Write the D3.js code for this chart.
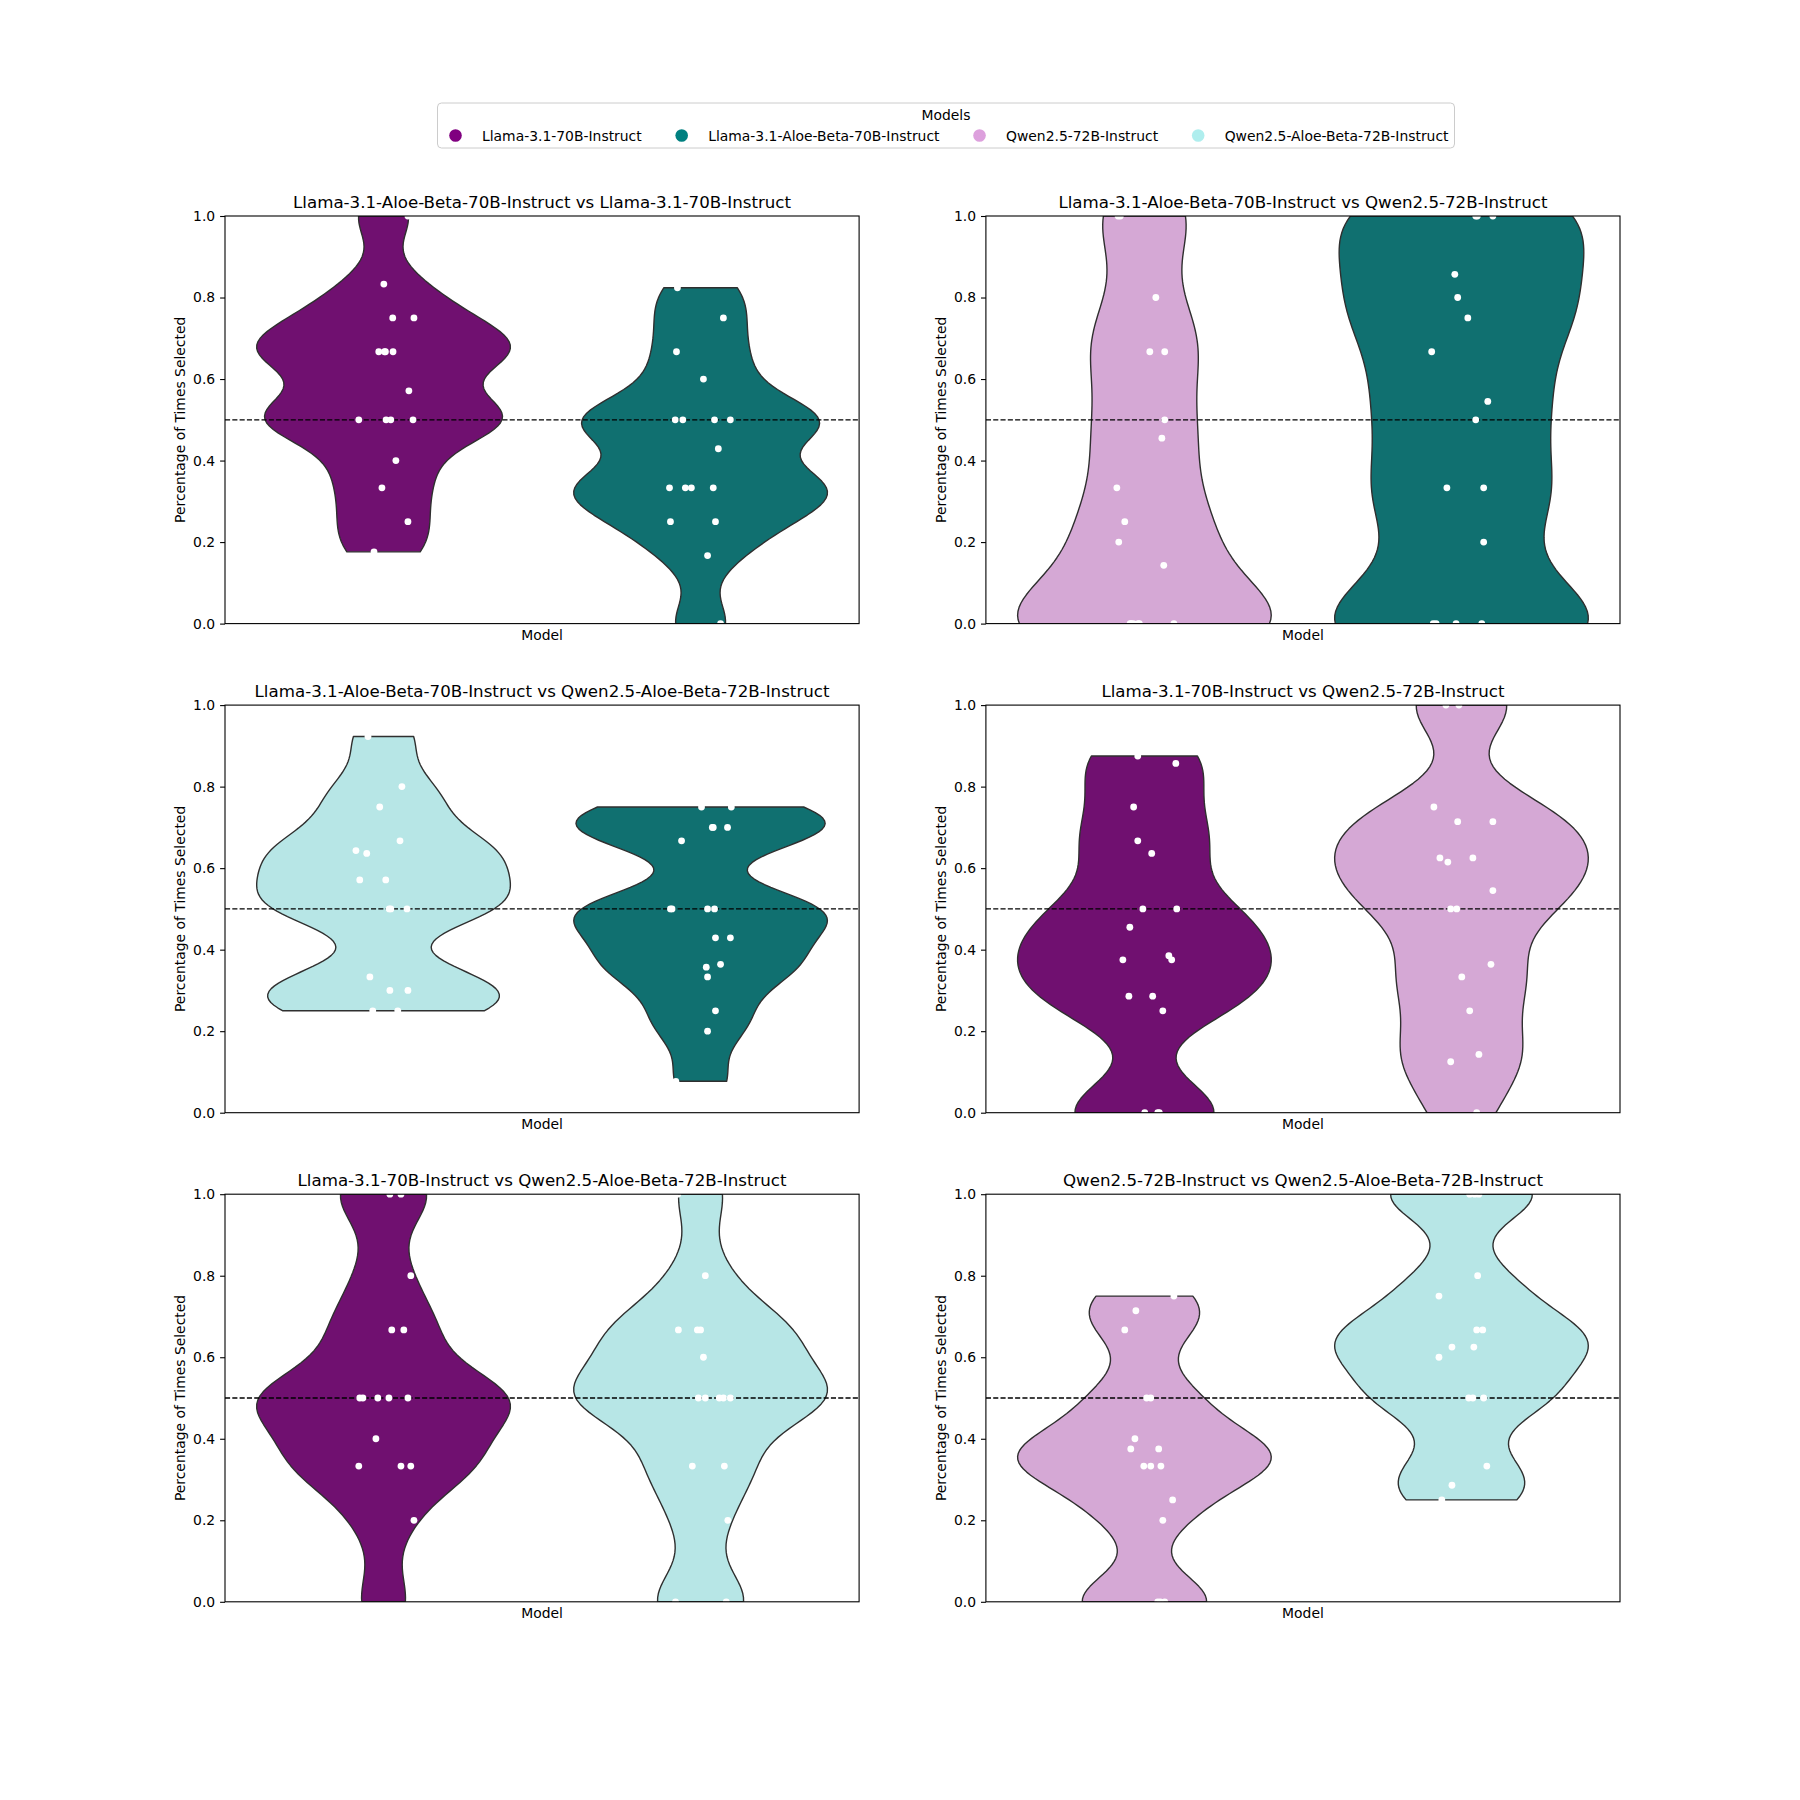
<!DOCTYPE html>
<html>
<head>
<meta charset="utf-8">
<script src="https://cdn.jsdelivr.net/npm/d3@7"></script>
<style>
body { margin: 0; background: #fff; }
text { font-family: "DejaVu Sans", sans-serif; fill: #000; }
</style>
</head>
<body>
<svg id="chart"></svg>
<script>
// models + legend colours
let models = ['Llama-3.1-70B-Instruct', 'Llama-3.1-Aloe-Beta-70B-Instruct', 'Qwen2.5-72B-Instruct', 'Qwen2.5-Aloe-Beta-72B-Instruct']
let modelColors = ['#800080', '#008080', '#dda0dd', '#afeeee']

let panelTitles = [
    'Llama-3.1-Aloe-Beta-70B-Instruct vs Llama-3.1-70B-Instruct',
    'Llama-3.1-Aloe-Beta-70B-Instruct vs Qwen2.5-72B-Instruct',
    'Llama-3.1-Aloe-Beta-70B-Instruct vs Qwen2.5-Aloe-Beta-72B-Instruct',
    'Llama-3.1-70B-Instruct vs Qwen2.5-72B-Instruct',
    'Llama-3.1-70B-Instruct vs Qwen2.5-Aloe-Beta-72B-Instruct',
    'Qwen2.5-72B-Instruct vs Qwen2.5-Aloe-Beta-72B-Instruct'
]
// [left model, right model] index into models
let panelPairs = [[0, 1], [2, 1], [3, 1], [0, 2], [0, 3], [2, 3]]

let yTicks = [0, 0.2, 0.4, 0.6, 0.8, 1.0]

// each point: [percentage selected, strip jitter]
let p1Left = [[1, 0.077], [0.833, 0.001], [0.75, 0.029], [0.75, 0.096], [0.667, -0.015], [0.667, 0.006], [0.667, 0.003], [0.667, 0.030],
    [0.571, 0.080], [0.5, -0.078], [0.5, 0.008], [0.5, 0.023], [0.5, 0.093], [0.4, 0.039], [0.333, -0.005], [0.25, 0.077], [0.176, -0.030]]
let p1Right = [[0.824, -0.073], [0.75, 0.072], [0.667, -0.076], [0.6, 0.009], [0.5, -0.080], [0.5, -0.056], [0.5, 0.044], [0.5, 0.094],
    [0.429, 0.056], [0.333, -0.098], [0.333, -0.048], [0.333, -0.029], [0.333, 0.040], [0.25, -0.095], [0.25, 0.047], [0.167, 0.022], [0, 0.063]]

let p2Left = [[1, -0.083], [1, -0.076], [0.8, 0.036], [0.667, 0.017], [0.667, 0.064], [0.5, 0.064], [0.455, 0.055], [0.333, -0.087], [0.25, -0.062],
    [0.2, -0.081], [0.143, 0.061], [0, -0.045], [0, -0.042], [0, -0.035], [0, -0.020], [0, -0.016], [0, 0.093]]
let p2Right = [[1, 0.045], [1, 0.050], [1, 0.099], [0.857, -0.021], [0.8, -0.012], [0.75, 0.020], [0.667, -0.094], [0.545, 0.083], [0.5, 0.045],
    [0.333, -0.046], [0.333, 0.070], [0.2, 0.070], [0, -0.089], [0, -0.080], [0, -0.017], [0, 0.064]]

let p3Left = [[0.923, -0.049], [0.8, 0.058], [0.75, -0.012], [0.667, 0.052], [0.643, -0.087], [0.636, -0.053], [0.571, -0.075], [0.571, 0.007],
    [0.5, 0.018], [0.5, 0.023], [0.5, 0.074], [0.333, -0.043], [0.3, 0.020], [0.3, 0.077], [0.25, -0.034], [0.25, 0.045]]
let p3Right = [[0.75, 0.003], [0.75, 0.097], [0.7, 0.037], [0.7, 0.085], [0.7, 0.040], [0.667, -0.060], [0.5, -0.095], [0.5, -0.090], [0.5, 0.022], [0.5, 0.044],
    [0.429, 0.047], [0.429, 0.094], [0.364, 0.063], [0.357, 0.018], [0.333, 0.022], [0.25, 0.047], [0.2, 0.022], [0.077, -0.078]]

let p4Left = [[0.875, -0.021], [0.857, 0.099], [0.75, -0.034], [0.667, -0.021], [0.636, 0.023], [0.5, -0.005], [0.5, 0.102], [0.455, -0.046],
    [0.385, 0.077], [0.375, -0.068], [0.375, 0.086], [0.286, -0.049], [0.286, 0.026], [0.25, 0.058], [0, 0.001], [0, 0.042], [0, 0.047]]
let p4Right = [[1, -0.049], [1, -0.008], [0.75, -0.087], [0.714, -0.012], [0.714, 0.099], [0.625, -0.068], [0.615, -0.043], [0.625, 0.036],
    [0.545, 0.099], [0.5, -0.034], [0.5, -0.015], [0.364, 0.093], [0.333, 0.001], [0.25, 0.026], [0.143, 0.055], [0.125, -0.034], [0, 0.048]]

let p5Left = [[1, 0.020], [1, 0.055], [0.8, 0.086], [0.667, 0.026], [0.667, 0.064], [0.5, -0.075], [0.5, -0.065], [0.5, -0.018], [0.5, 0.017],
    [0.5, 0.077], [0.4, -0.024], [0.333, -0.078], [0.333, 0.055], [0.333, 0.086], [0.2, 0.096], [0, -0.081]]
let p5Right = [[1, -0.072], [0.8, 0.015], [0.667, -0.070], [0.667, -0.010], [0.667, 0.000], [0.6, 0.009], [0.5, -0.007], [0.5, 0.015], [0.5, 0.059],
    [0.5, 0.072], [0.5, 0.094], [0.333, -0.026], [0.333, 0.075], [0.2, 0.086], [0, -0.079], [0, 0.081]]

let p6Left = [[0.75, 0.093], [0.714, -0.027], [0.667, -0.062], [0.5, 0.007], [0.5, 0.020], [0.4, -0.030], [0.375, -0.043], [0.375, 0.045],
    [0.333, -0.002], [0.333, 0.020], [0.333, 0.052], [0.25, 0.089], [0.2, 0.058], [0, 0.042], [0, 0.050], [0, 0.064]]
let p6Right = [[1, 0.026], [1, 0.042], [1, 0.055], [0.8, 0.051], [0.75, -0.071], [0.667, 0.048], [0.667, 0.067], [0.625, -0.030], [0.625, 0.039],
    [0.6, -0.071], [0.5, 0.023], [0.5, 0.036], [0.5, 0.070], [0.333, 0.080], [0.286, -0.030], [0.25, -0.062]]

let panelPoints = [[p1Left, p1Right], [p2Left, p2Right], [p3Left, p3Right], [p4Left, p4Right], [p5Left, p5Right], [p6Left, p6Right]]

let width = 1800
let height = 1800
let axLeft = 225
let axTop = 216
let axW = 634.1
let axH = 407.6
let gapX = 126.8
let gapY = 81.5
let bwAdjust = 0.5
let fontSm = '13.9px'

let svg = d3.select('#chart').attr('width', width).attr('height', height)

// seaborn-like desaturation (saturation 0.75)
let desat = (c) => {
    let h = d3.hsl(c)
    h.s = h.s * 0.75
    return h.formatHex()
}

// gaussian kde, scott bandwidth, cut at data range
let kde = (vals) => {
    let n = vals.length
    let sd = d3.deviation(vals)
    let bw = sd * Math.pow(n, -0.2) * bwAdjust
    let lo = d3.min(vals), hi = d3.max(vals)
    let grid = d3.range(100).map(i => lo + (hi - lo) * i / 99)
    return grid.map(g => ({
        v: g,
        d: d3.sum(vals, x => Math.exp(-0.5 * ((g - x) / bw) ** 2))
    }))
}

let drawPanel = (idx) => {
    let col = idx % 2
    let row = Math.floor(idx / 2)
    let ox = axLeft + col * (axW + gapX)
    let oy = axTop + row * (axH + gapY)

    let g = svg.append('g').attr('transform', 'translate(' + ox + ',' + oy + ')')

    g.append('clipPath').attr('id', 'clip' + idx)
        .append('rect').attr('width', axW).attr('height', axH)

    let xScale = d3.scaleLinear().domain([-0.5, 1.5]).range([0, axW])
    let yScale = d3.scaleLinear().domain([0, 1]).range([axH, 0])

    let plot = g.append('g').attr('clip-path', 'url(#clip' + idx + ')')

    panelPairs[idx].forEach((m, k) => {
        let vals = panelPoints[idx][k].map(d => d[0])
        let dens = kde(vals)
        let maxD = d3.max(dens, d => d.d)
        let area = d3.area()
            .y(d => yScale(d.v))
            .x0(d => xScale(k - 0.4 * d.d / maxD))
            .x1(d => xScale(k + 0.4 * d.d / maxD))
        plot.append('path')
            .datum(dens)
            .attr('d', area)
            .attr('fill', desat(modelColors[m]))
            .attr('stroke', '#2f2f2f')
            .attr('stroke-width', 1.4)
            .attr('stroke-linejoin', 'round')
    })

    // 50% reference line
    plot.append('line')
        .attr('x1', 0).attr('x2', axW)
        .attr('y1', yScale(0.5)).attr('y2', yScale(0.5))
        .attr('stroke', '#000')
        .attr('stroke-width', 1.3)
        .attr('stroke-dasharray', '5.1,2.2')

    panelPoints[idx].forEach((pts, k) => {
        plot.selectAll('circle.s' + k)
            .data(pts)
            .enter()
            .append('circle')
            .attr('class', 's' + k)
            .attr('cx', d => xScale(k + d[1]))
            .attr('cy', d => yScale(d[0]))
            .attr('r', 3.4)
            .attr('fill', '#fff')
    })

    let yAxis = d3.axisLeft(yScale)
        .tickValues(yTicks)
        .tickFormat(d3.format('.1f'))
        .tickSize(4.9)
        .tickPadding(4.9)
    let ya = g.append('g').call(yAxis)
    ya.select('.domain').remove()
    ya.selectAll('text').style('font-size', fontSm).style('font-family', '"DejaVu Sans", sans-serif')
    ya.selectAll('line').attr('stroke-width', 1.1)

    g.append('rect')
        .attr('width', axW).attr('height', axH)
        .attr('fill', 'none').attr('stroke', '#000').attr('stroke-width', 1.1)

    g.append('text')
        .attr('x', axW / 2).attr('y', -8.3)
        .attr('text-anchor', 'middle')
        .style('font-size', '16.67px')
        .text(panelTitles[idx])

    g.append('text')
        .attr('x', axW / 2).attr('y', axH + 16.5)
        .attr('text-anchor', 'middle')
        .style('font-size', fontSm)
        .text('Model')

    g.append('text')
        .attr('transform', 'translate(-40,' + (axH / 2) + ') rotate(-90)')
        .attr('text-anchor', 'middle')
        .style('font-size', fontSm)
        .text('Percentage of Times Selected')
}

d3.range(6).forEach(drawPanel)

// legend
let drawLegend = () => {
    let lg = svg.append('g')
    let box = lg.append('rect')
    let title = lg.append('text')
        .attr('y', 120)
        .attr('text-anchor', 'middle')
        .style('font-size', fontSm)
        .text('Models')

    let x = 0
    let items = []
    models.forEach((m, i) => {
        let item = lg.append('g')
        item.append('circle').attr('cx', x).attr('cy', 135.5).attr('r', 6.3).attr('fill', modelColors[i])
        let t = item.append('text').attr('x', x + 26.5).attr('y', 140.5).style('font-size', fontSm).text(m)
        let end = x + 26.5 + t.node().getComputedTextLength()
        items.push(item)
        x = end + 40
    })
    let lastEnd = x - 40
    let boxW = 18 + lastEnd + 6
    let bx = 946 - boxW / 2
    items.forEach(it => it.attr('transform', 'translate(' + (bx + 18) + ',0)'))
    title.attr('x', bx + boxW / 2)
    box.attr('x', bx).attr('y', 103).attr('width', boxW).attr('height', 45)
        .attr('rx', 4).attr('fill', '#fff').attr('fill-opacity', 0.8)
        .attr('stroke', '#cccccc').attr('stroke-width', 1)
}
drawLegend()
</script>
</body>
</html>
